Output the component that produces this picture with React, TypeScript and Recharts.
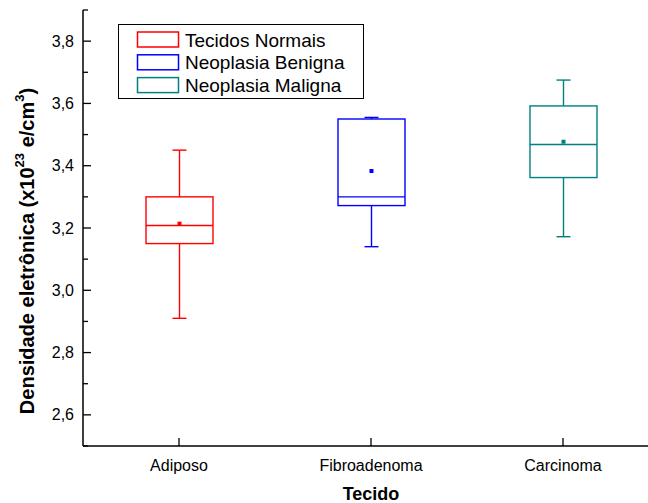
import { ComposedChart, Bar, XAxis, YAxis, Label } from 'recharts';

const CATEGORIES = ['Adiposo', 'Fibroadenoma', 'Carcinoma'];
const GROUPS = ['Tecidos Normais', 'Neoplasia Benigna', 'Neoplasia Maligna'];
const COLORS = ['#ff0000', '#0000ff', '#008080'];

// box plot statistics
const WHISKER_LOW = [2.91, 3.14, 3.172];
const Q1 = [3.15, 3.272, 3.362];
const MEDIAN = [3.208, 3.3, 3.468];
const Q3 = [3.3, 3.55, 3.592];
const WHISKER_HIGH = [3.45, 3.555, 3.675];
const MEAN = [3.214, 3.383, 3.477];

const Y_TICKS = [2.5, 2.6, 2.7, 2.8, 2.9, 3.0, 3.1, 3.2, 3.3, 3.4, 3.5, 3.6, 3.7, 3.8, 3.9];
const MAJOR_TICKS = [2.6, 2.8, 3.0, 3.2, 3.4, 3.6, 3.8];

const FONT = '"Liberation Sans", Arial, sans-serif';

const data = CATEGORIES.map((name, i) => ({
  name,
  range: [WHISKER_LOW[i], WHISKER_HIGH[i]],
  q1: Q1[i],
  median: MEDIAN[i],
  q3: Q3[i],
  mean: MEAN[i],
  color: COLORS[i],
}));

function BoxShape(props: any) {
  const { x, y, width, height, payload } = props;
  const [lo, hi] = payload.range;
  const top = Math.min(y, y + height);
  const bot = Math.max(y, y + height);
  const py = (v: number) => top + ((bot - top) * (hi - v)) / (hi - lo);
  const cx = x + width / 2;
  const c = payload.color;
  const cap = 7;
  return (
    <g stroke={c} strokeWidth={1.4} fill="none">
      <line x1={cx} x2={cx} y1={py(hi)} y2={py(payload.q3)} />
      <line x1={cx} x2={cx} y1={py(payload.q1)} y2={py(lo)} />
      <line x1={cx - cap} x2={cx + cap} y1={py(hi)} y2={py(hi)} />
      <line x1={cx - cap} x2={cx + cap} y1={py(lo)} y2={py(lo)} />
      <rect x={x} y={py(payload.q3)} width={width} height={py(payload.q1) - py(payload.q3)} />
      <line x1={x} x2={x + width} y1={py(payload.median)} y2={py(payload.median)} />
      <rect x={cx - 2} y={py(payload.mean) - 2} width={4} height={4} fill={c} stroke="none" />
    </g>
  );
}

function YTick(props: any) {
  const { x, y, payload } = props;
  const v = payload.value;
  const major = MAJOR_TICKS.includes(v);
  return (
    <g>
      <line x1={x} x2={x + (major ? 8 : 5)} y1={y} y2={y} stroke="#000" strokeWidth={1.3} />
      {major && (
        <text x={x - 9} y={y} textAnchor="end" dominantBaseline="central" fontSize={16} fontFamily={FONT} fill="#000">
          {v.toFixed(1).replace('.', ',')}
        </text>
      )}
    </g>
  );
}

function XTick(props: any) {
  const { x, y, payload } = props;
  return (
    <g>
      <line x1={x} x2={x} y1={y} y2={y - 8} stroke="#000" strokeWidth={1.3} />
      <text x={x} y={y + 19} textAnchor="middle" dominantBaseline="central" fontSize={16} fontFamily={FONT} fill="#000">
        {payload.value}
      </text>
    </g>
  );
}

function TopTick(props: any) {
  const { x, y } = props;
  return <line x1={x} x2={x} y1={y} y2={y + 8} stroke="#000" strokeWidth={1.3} />;
}

function YTitle(props: any) {
  const { viewBox } = props;
  const cx = 27;
  const cy = viewBox.y + viewBox.height / 2 + 23;
  return (
    <text
      x={cx}
      y={cy}
      transform={`rotate(-90 ${cx} ${cy})`}
      textAnchor="middle"
      dominantBaseline="central"
      fontSize={20}
      fontWeight="bold"
      fontFamily={FONT}
      fill="#000"
    >
      <tspan>Densidade eletrônica (x10</tspan>
      <tspan dy={-8} fontSize={13}>23</tspan>
      <tspan dy={8}> e/cm</tspan>
      <tspan dy={-8} fontSize={13}>3</tspan>
      <tspan dy={8}>)</tspan>
    </text>
  );
}

function XTitle(props: any) {
  const { viewBox } = props;
  return (
    <text
      x={viewBox.x + viewBox.width / 2}
      y={viewBox.y + 48}
      textAnchor="middle"
      dominantBaseline="central"
      fontSize={18}
      fontWeight="bold"
      fontFamily={FONT}
      fill="#000"
    >
      Tecido
    </text>
  );
}

function BoxLegend() {
  return (
    <svg
      width={246}
      height={75}
      style={{ position: 'absolute', left: 117.5, top: 23.5, fontFamily: FONT }}
    >
      <rect x={0.5} y={0.5} width={245} height={74} fill="#fff" stroke="#000" strokeWidth={1} />
      {GROUPS.map((g, i) => (
        <g key={g}>
          <rect x={19.5} y={8 + i * 22.8} width={41} height={15} fill="none" stroke={COLORS[i]} strokeWidth={1.5} />
          <text x={67} y={22.5 + i * 22.8} fontSize={19} fill="#000">
            {g}
          </text>
        </g>
      ))}
    </svg>
  );
}

export default function App() {
  return (
    <div style={{ position: 'absolute', left: 0, top: 0, width: 648, height: 503, overflow: 'hidden', background: '#fff' }}>
      <ComposedChart width={670} height={503} data={data} margin={{ top: 10, right: 11, bottom: 0, left: 0 }}>
        <XAxis
          dataKey="name"
          height={57}
          interval={0}
          tickLine={false}
          tickSize={0}
          tickMargin={0}
          tick={<XTick />}
          axisLine={{ stroke: '#000', strokeWidth: 1.5 }}
        >
          <Label content={<XTitle />} />
        </XAxis>
        <XAxis
          xAxisId="top"
          orientation="top"
          dataKey="name"
          height={0}
          interval={0}
          tickLine={false}
          tickSize={0}
          tickMargin={0}
          tick={<TopTick />}
          axisLine={{ stroke: '#000', strokeWidth: 1.5 }}
        />
        <YAxis
          width={83}
          type="number"
          domain={[2.5, 3.9]}
          ticks={Y_TICKS}
          interval={0}
          allowDataOverflow
          tickLine={false}
          tickSize={0}
          tickMargin={0}
          tick={<YTick />}
          axisLine={{ stroke: '#000', strokeWidth: 1.5 }}
        >
          <Label content={<YTitle />} />
        </YAxis>
        <Bar dataKey="range" barSize={67} shape={<BoxShape />} isAnimationActive={false} />
      </ComposedChart>
      <BoxLegend />
    </div>
  );
}
